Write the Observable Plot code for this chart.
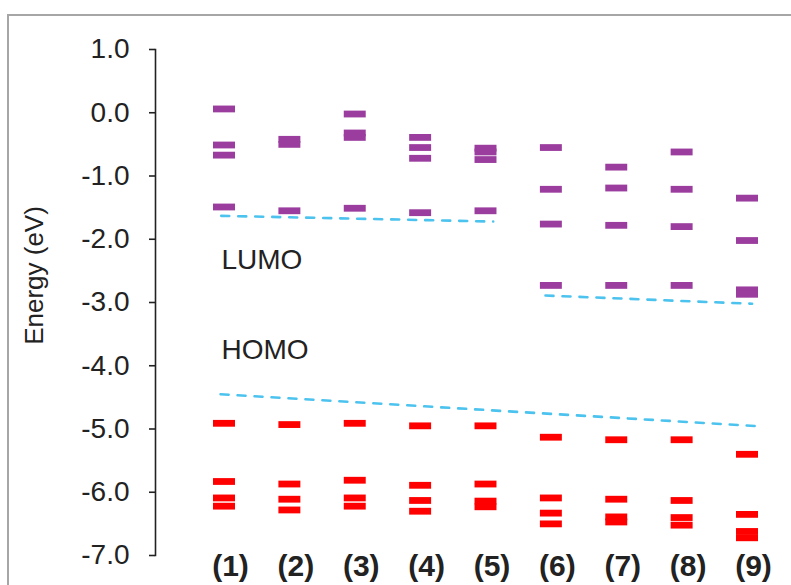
<!DOCTYPE html>
<html>
<head>
<meta charset="utf-8">
<script src="https://cdn.jsdelivr.net/npm/d3@7"></script>
<script src="https://cdn.jsdelivr.net/npm/@observablehq/plot@0.6"></script>
<style>
  html, body { margin: 0; padding: 0; background: #fff; }
  #wrap { position: relative; width: 791px; height: 585px; overflow: hidden; }
  #border { position: absolute; left: 7px; top: 14px; right: -10px; bottom: -10px;
            border-left: 2px solid #a6a6a6; border-top: 2px solid #a6a6a6; pointer-events: none; }
  #chart { position: absolute; left: 0; top: 0; }
</style>
</head>
<body>
<div id="wrap"><div id="chart"></div><div id="border"></div></div>
<script>
// Compounds (x categories)
const compounds = ["(1)", "(2)", "(3)", "(4)", "(5)", "(6)", "(7)", "(8)", "(9)"];

// LUMO-side (unoccupied) levels, eV, per compound
const lumoLevels = [
  [0.06, -0.51, -0.67, -1.49],
  [-0.42, -0.50, -1.55],
  [-0.02, -0.32, -0.39, -1.51],
  [-0.39, -0.55, -0.72, -1.58],
  [-0.56, -0.62, -0.74, -1.55],
  [-0.55, -1.21, -1.76, -2.73],
  [-0.86, -1.19, -1.78, -2.73],
  [-0.62, -1.21, -1.80, -2.73],
  [-1.35, -2.02, -2.80, -2.87]
];

// HOMO-side (occupied) levels, eV, per compound
const homoLevels = [
  [-4.91, -5.83, -6.09, -6.22],
  [-4.93, -5.87, -6.11, -6.28],
  [-4.91, -5.81, -6.09, -6.22],
  [-4.95, -5.89, -6.13, -6.30],
  [-4.95, -5.87, -6.14, -6.23],
  [-5.13, -6.09, -6.33, -6.50],
  [-5.17, -6.11, -6.39, -6.47],
  [-5.17, -6.13, -6.40, -6.52],
  [-5.40, -6.35, -6.62, -6.72]
];

// Dashed trend lines: [compound position, energy]
const lumoTrend1 = [[0.95, -1.63], [5.11, -1.72]];
const lumoTrend2 = [[5.91, -2.89], [9.07, -3.02]];
const homoTrend = [[0.94, -4.45], [9.24, -4.96]];

// Annotations
const stateLabels = ["LUMO", "HOMO"];
const stateLabelEnergy = [-2.33, -3.75];

// Axis ticks
const yTicks = [1, 0, -1, -2, -3, -4, -5, -6, -7];

const levels = [];
lumoLevels.forEach((arr, i) => arr.forEach(e => levels.push({c: i + 1, e, kind: "lumo"})));
homoLevels.forEach((arr, i) => arr.forEach(e => levels.push({c: i + 1, e, kind: "homo"})));

const labelData = stateLabels.map((t, i) => ({t, e: stateLabelEnergy[i]}));
const halfW = 0.168;
const font = "'Liberation Sans', Arial, sans-serif";

const chart = Plot.plot({
  width: 791,
  height: 585,
  marginTop: 49,
  marginBottom: 30,
  marginLeft: 155,
  marginRight: 30,
  style: {fontFamily: font, background: "transparent", color: "#222"},
  x: {type: "linear", domain: [1, 9], range: [224, 747]},
  y: {domain: [-7, 1]},
  marks: [
    Plot.frame({anchor: "left", stroke: "#222", strokeWidth: 1.6}),
    Plot.axisY({ticks: yTicks, tickFormat: d => d.toFixed(1), tickSize: 6, tickPadding: 20,
      fontSize: 28, label: null, stroke: "#222", strokeWidth: 1.6}),
    Plot.axisX({ticks: compounds.map((_, i) => i + 1), tickFormat: d => compounds[d - 1],
      tickSize: 0, tickPadding: -1, dx: 6, fontSize: 30, fontWeight: "bold", label: null}),
    Plot.text(["Energy (eV)"], {frameAnchor: "left", textAnchor: "middle", rotate: -90,
      dx: -121, dy: -27, fontSize: 26, fill: "#222"}),
    Plot.ruleY(levels, {
      x1: d => d.c - halfW, x2: d => d.c + halfW, y: "e",
      stroke: d => d.kind === "lumo" ? "#9b3d9e" : "#ff0000",
      strokeWidth: 6.8
    }),
    Plot.line(lumoTrend1, {x: d => d[0], y: d => d[1], stroke: "#4cc3ee", strokeWidth: 2.6, strokeDasharray: "8,9"}),
    Plot.line(lumoTrend2, {x: d => d[0], y: d => d[1], stroke: "#4cc3ee", strokeWidth: 2.6, strokeDasharray: "8,9"}),
    Plot.line(homoTrend, {x: d => d[0], y: d => d[1], stroke: "#4cc3ee", strokeWidth: 2.6, strokeDasharray: "8,9"}),
    Plot.text(labelData, {x: () => 1, y: "e", text: "t", textAnchor: "start", dx: -3, fontSize: 28, fill: "#222"})
  ]
});
document.getElementById("chart").appendChild(chart);
</script>
</body>
</html>
